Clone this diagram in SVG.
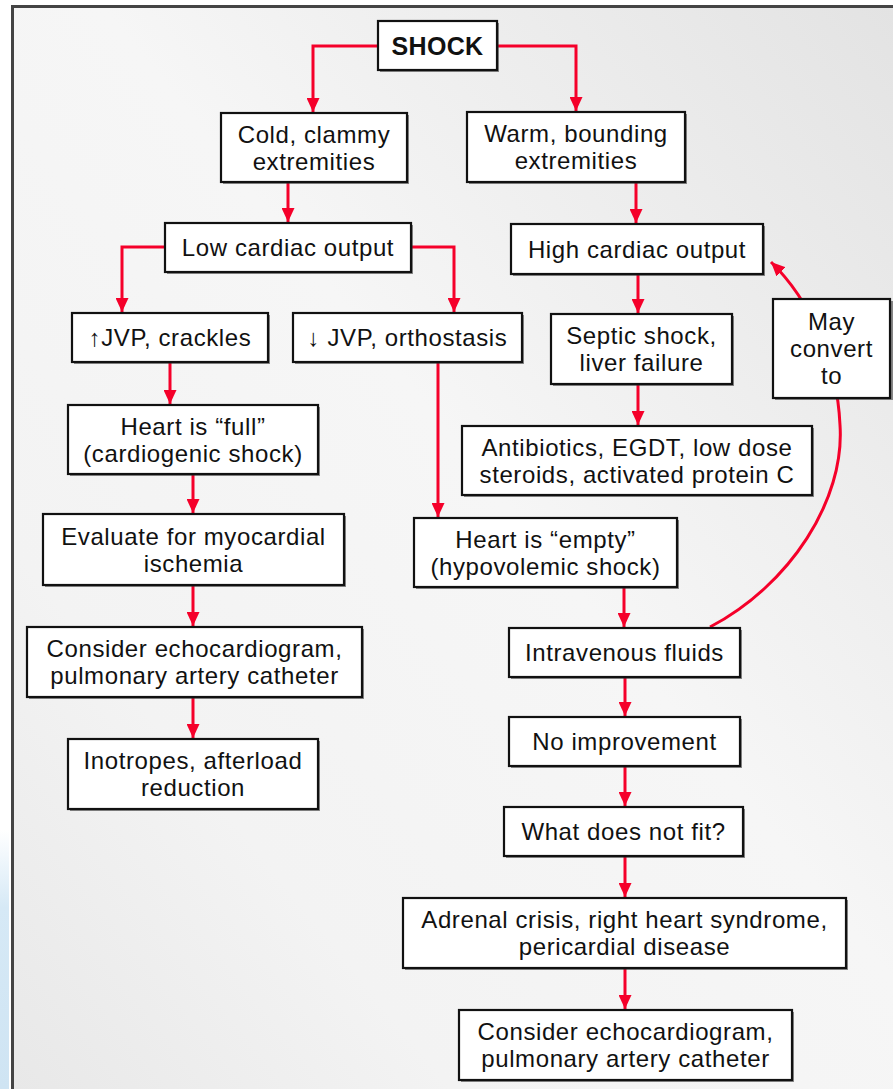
<svg xmlns="http://www.w3.org/2000/svg" width="893" height="1089" viewBox="0 0 893 1089">
<defs>
<style>
.box{fill:#fff;stroke:#111;stroke-width:2.2}
.sh{fill:#333;opacity:0.55}
.t{font-family:"Liberation Sans",Arial,sans-serif;font-size:24px;letter-spacing:0.6px;fill:#111;text-anchor:middle}
.b{font-weight:bold;font-size:25px;letter-spacing:0.3px}
.c{fill:none;stroke:#f5002a;stroke-width:3}
</style>
<linearGradient id="bg" x1="1" y1="0" x2="0" y2="1">
<stop offset="0" stop-color="#e3e3e3"/>
<stop offset="0.45" stop-color="#f6f6f6"/>
<stop offset="0.75" stop-color="#f3f3f3"/>
<stop offset="1" stop-color="#e8e8e8"/>
</linearGradient>
<linearGradient id="blue" x1="0" y1="0" x2="0" y2="1">
<stop offset="0" stop-color="#ffffff"/>
<stop offset="0.3" stop-color="#d6e9f6"/>
<stop offset="1" stop-color="#cfe4f3"/>
</linearGradient>
<marker id="ah" markerUnits="userSpaceOnUse" markerWidth="14" markerHeight="13" refX="14" refY="6.5" orient="auto">
<path d="M0,0 L14,6.5 L0,13 z" fill="#f5002a"/>
</marker>
</defs>
<rect x="0" y="0" width="893" height="1089" fill="#fff"/>
<rect x="12" y="6" width="881" height="1083" fill="url(#bg)"/>
<rect x="0" y="830" width="9" height="259" fill="url(#blue)"/>
<path d="M12.5,1089 V6.5 H893" fill="none" stroke="#444" stroke-width="3"/>

<g id="connectors">
<path class="c" d="M378,46 H313 V112" marker-end="url(#ah)"/>
<path class="c" d="M497,46 H576 V111" marker-end="url(#ah)"/>
<path class="c" d="M288,182 V222" marker-end="url(#ah)"/>
<path class="c" d="M636,182 V223" marker-end="url(#ah)"/>
<path class="c" d="M165,247 H122 V312" marker-end="url(#ah)"/>
<path class="c" d="M411,247 H454 V312" marker-end="url(#ah)"/>
<path class="c" d="M170,362 V404" marker-end="url(#ah)"/>
<path class="c" d="M193,474 V513" marker-end="url(#ah)"/>
<path class="c" d="M193,585 V626" marker-end="url(#ah)"/>
<path class="c" d="M193,697 V738" marker-end="url(#ah)"/>
<path class="c" d="M438,362 V517" marker-end="url(#ah)"/>
<path class="c" d="M638,274 V313" marker-end="url(#ah)"/>
<path class="c" d="M638,384 V425" marker-end="url(#ah)"/>
<path class="c" d="M624,587 V627" marker-end="url(#ah)"/>
<path class="c" d="M625,677 V716" marker-end="url(#ah)"/>
<path class="c" d="M625,766 V806" marker-end="url(#ah)"/>
<path class="c" d="M625,856 V897" marker-end="url(#ah)"/>
<path class="c" d="M625,968 V1009" marker-end="url(#ah)"/>
<path class="c" d="M710,627 C790,585 845,500 840,425 C837,360 810,300 771,262" marker-end="url(#ah)"/>
</g>

<g id="shock"><rect class="sh" x="380" y="23" width="119" height="49"/><rect class="box" x="378" y="21" width="119" height="49"/><text class="t b" x="437.5" y="54.5">SHOCK</text></g>
<g id="cold"><rect class="sh" x="223" y="115" width="186" height="69"/><rect class="box" x="221" y="113" width="186" height="69"/><text class="t" x="314" y="142.5">Cold, clammy</text><text class="t" x="314" y="169.5">extremities</text></g>
<g id="warm"><rect class="sh" x="469" y="114" width="218" height="70"/><rect class="box" x="467" y="112" width="218" height="70"/><text class="t" x="576" y="142">Warm, bounding</text><text class="t" x="576" y="169">extremities</text></g>
<g id="low"><rect class="sh" x="167" y="225" width="246" height="49"/><rect class="box" x="165" y="223" width="246" height="49"/><text class="t" x="288" y="256">Low cardiac output</text></g>
<g id="high"><rect class="sh" x="513" y="226" width="252" height="50"/><rect class="box" x="511" y="224" width="252" height="50"/><text class="t" x="637" y="257.5">High cardiac output</text></g>
<g id="upjvp"><rect class="sh" x="74" y="315" width="196" height="49"/><rect class="box" x="72" y="313" width="196" height="49"/><text class="t" x="170" y="346">↑JVP, crackles</text></g>
<g id="downjvp"><rect class="sh" x="295" y="315" width="229" height="49"/><rect class="box" x="293" y="313" width="229" height="49"/><text class="t" x="407.5" y="346">↓ JVP, orthostasis</text></g>
<g id="mayconvert"><rect class="sh" x="775" y="301" width="118" height="99"/><rect class="box" x="773" y="299" width="117" height="99"/><text class="t" x="831.5" y="330">May</text><text class="t" x="831.5" y="357">convert</text><text class="t" x="831.5" y="384">to</text></g>
<g id="septic"><rect class="sh" x="553" y="316" width="181" height="70"/><rect class="box" x="551" y="314" width="181" height="70"/><text class="t" x="641.5" y="344">Septic shock,</text><text class="t" x="641.5" y="371">liver failure</text></g>
<g id="full"><rect class="sh" x="70" y="407" width="250" height="69"/><rect class="box" x="68" y="405" width="250" height="69"/><text class="t" x="193" y="434.5">Heart is “full”</text><text class="t" x="193" y="461.5">(cardiogenic shock)</text></g>
<g id="antibiotics"><rect class="sh" x="464" y="428" width="350" height="69"/><rect class="box" x="462" y="426" width="350" height="69"/><text class="t" x="637" y="455.5">Antibiotics, EGDT, low dose</text><text class="t" x="637" y="482.5">steroids, activated protein C</text></g>
<g id="evaluate"><rect class="sh" x="45" y="516" width="301" height="71"/><rect class="box" x="43" y="514" width="301" height="71"/><text class="t" x="193.5" y="544.5">Evaluate for myocardial</text><text class="t" x="193.5" y="571.5">ischemia</text></g>
<g id="empty"><rect class="sh" x="416" y="520" width="263" height="69"/><rect class="box" x="414" y="518" width="263" height="69"/><text class="t" x="545.5" y="547.5">Heart is “empty”</text><text class="t" x="545.5" y="574.5">(hypovolemic shock)</text></g>
<g id="considerleft"><rect class="sh" x="29" y="629" width="335" height="70"/><rect class="box" x="27" y="627" width="335" height="70"/><text class="t" x="194.5" y="657">Consider echocardiogram,</text><text class="t" x="194.5" y="684">pulmonary artery catheter</text></g>
<g id="iv"><rect class="sh" x="511" y="630" width="231" height="49"/><rect class="box" x="509" y="628" width="231" height="49"/><text class="t" x="624.5" y="661">Intravenous fluids</text></g>
<g id="inotropes"><rect class="sh" x="70" y="741" width="250" height="70"/><rect class="box" x="68" y="739" width="250" height="70"/><text class="t" x="193" y="769">Inotropes, afterload</text><text class="t" x="193" y="796">reduction</text></g>
<g id="noimprovement"><rect class="sh" x="511" y="719" width="231" height="49"/><rect class="box" x="509" y="717" width="231" height="49"/><text class="t" x="624.5" y="750">No improvement</text></g>
<g id="whatdoesnotfit"><rect class="sh" x="506" y="809" width="239" height="49"/><rect class="box" x="504" y="807" width="239" height="49"/><text class="t" x="623.5" y="840">What does not fit?</text></g>
<g id="adrenal"><rect class="sh" x="405" y="900" width="443" height="70"/><rect class="box" x="403" y="898" width="443" height="70"/><text class="t" x="624.5" y="928">Adrenal crisis, right heart syndrome,</text><text class="t" x="624.5" y="955">pericardial disease</text></g>
<g id="considerright"><rect class="sh" x="461" y="1012" width="333" height="70"/><rect class="box" x="459" y="1010" width="333" height="70"/><text class="t" x="625.5" y="1040">Consider echocardiogram,</text><text class="t" x="625.5" y="1067">pulmonary artery catheter</text></g>
</svg>
